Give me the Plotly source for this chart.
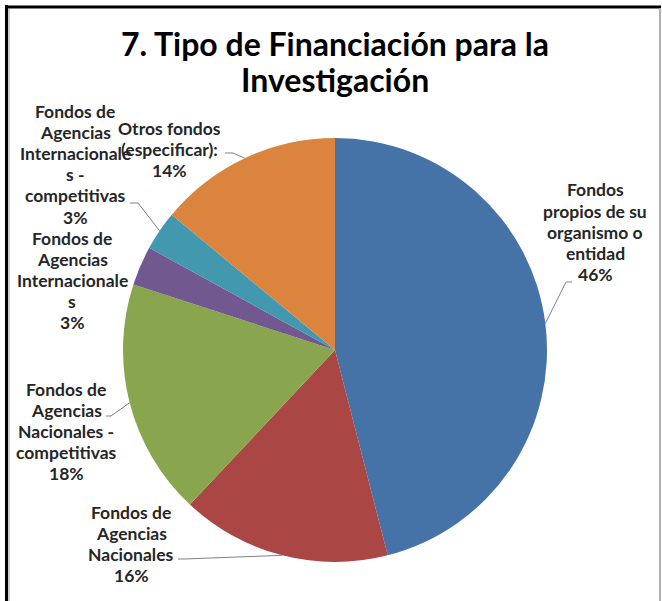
import math
import plotly.graph_objects as go

# ---------------- data ----------------
labels = [
    "Fondos propios de su organismo o entidad",
    "Fondos de Agencias Nacionales",
    "Fondos de Agencias Nacionales - competitivas",
    "Fondos de Agencias Internacionales",
    "Fondos de Agencias Internacionales - competitivas",
    "Otros fondos (especificar):",
]
values = [46, 16, 18, 3, 3, 14]
label_lines = [
    ["Fondos", "propios de su", "organismo o", "entidad"],
    ["Fondos de", "Agencias", "Nacionales"],
    ["Fondos de", "Agencias", "Nacionales -", "competitivas"],
    ["Fondos de", "Agencias", "Internacionale", "s"],
    ["Fondos de", "Agencias", "Internacionale", "s -", "competitivas"],
    ["Otros fondos", "(especificar):"],
]
title_lines = ["7. Tipo de Financiación para la", "Investigación"]
colors = ["#4572A7", "#AA4643", "#89A54E", "#71588F", "#4198AF", "#DB843D"]

# ---------------- layout constants (pixels) ----------------
W, H = 662, 601
CX, CY, R = 335, 350, 212          # pie centre / radius
LINE_STEP = 21.2
# label block: centre x, first line y
label_pos = [(595, 190), (131, 512), (66, 389), (72, 238), (75, 111), (169, 128)]
# leader line: (anchor near text, elbow) or None
leaders = [
    ((572, 282), (566, 282)),
    ((178, 559), (184, 559)),
    ((106, 416), (111, 416)),
    None,
    ((130, 203), (138, 203)),
    ((225, 153), (233, 153)),
]


def px(x):
    return x / W


def py(y):
    return 1 - y / H


fig = go.Figure(
    go.Pie(
        labels=labels,
        values=values,
        marker=dict(colors=colors, line=dict(width=0)),
        sort=False,
        direction="clockwise",
        rotation=0,
        textinfo="none",
        showlegend=False,
        domain=dict(x=[px(CX - R), px(CX + R)], y=[py(CY + R), py(CY - R)]),
    )
)

annotations = []
shapes = []
total = sum(values)
cum = 0
for i, v in enumerate(values):
    mid = (cum + v / 2) / total
    cum += v
    ang = 2 * math.pi * mid
    ex = CX + R * math.sin(ang)
    ey = CY - R * math.cos(ang)
    lines = label_lines[i] + [f"{round(100 * v / total)}%"]
    lx, ly = label_pos[i]
    for k, t in enumerate(lines):
        annotations.append(dict(
            x=px(lx), y=py(ly + k * LINE_STEP), xref="paper", yref="paper",
            text=t, showarrow=False, xanchor="center", yanchor="middle",
            font=dict(family="Lato", size=17.5, color="#262626", weight="bold"),
        ))
    if leaders[i] is not None:
        (ax_, ay_), (bx, by) = leaders[i]
        shapes.append(dict(
            type="path", xref="paper", yref="paper",
            path=f"M {px(ax_)} {py(ay_)} L {px(bx)} {py(by)} L {px(ex)} {py(ey)}",
            line=dict(color="#808080", width=1),
        ))

for k, t in enumerate(title_lines):
    annotations.append(dict(
        x=px(335), y=py(43 + k * 36), xref="paper", yref="paper",
        text=t, showarrow=False, xanchor="center", yanchor="middle",
        font=dict(family="Lato", size=32, color="#000000", weight="bold"),
    ))

# frame
shapes += [
    dict(type="line", xref="paper", yref="paper", x0=px(5), x1=px(661), y0=py(7), y1=py(7),
         line=dict(color="#000000", width=3)),
    dict(type="line", xref="paper", yref="paper", x0=px(6.5), x1=px(6.5), y0=py(5), y1=py(601),
         line=dict(color="#000000", width=3)),
    dict(type="line", xref="paper", yref="paper", x0=px(9), x1=px(9), y0=py(9), y1=py(601),
         line=dict(color="#cfcfcf", width=2)),
    dict(type="line", xref="paper", yref="paper", x0=px(660), x1=px(660), y0=py(8), y1=py(601),
         line=dict(color="#b0b0b0", width=2)),
]

fig.update_layout(
    width=W, height=H, autosize=False,
    margin=dict(l=0, r=0, t=0, b=0),
    paper_bgcolor="white", plot_bgcolor="white",
    annotations=annotations, shapes=shapes,
)

fig.write_html(
    "out.html",
    config={"displayModeBar": False},
    post_script="document.body.style.margin='0';document.body.style.overflow='hidden';",
)
